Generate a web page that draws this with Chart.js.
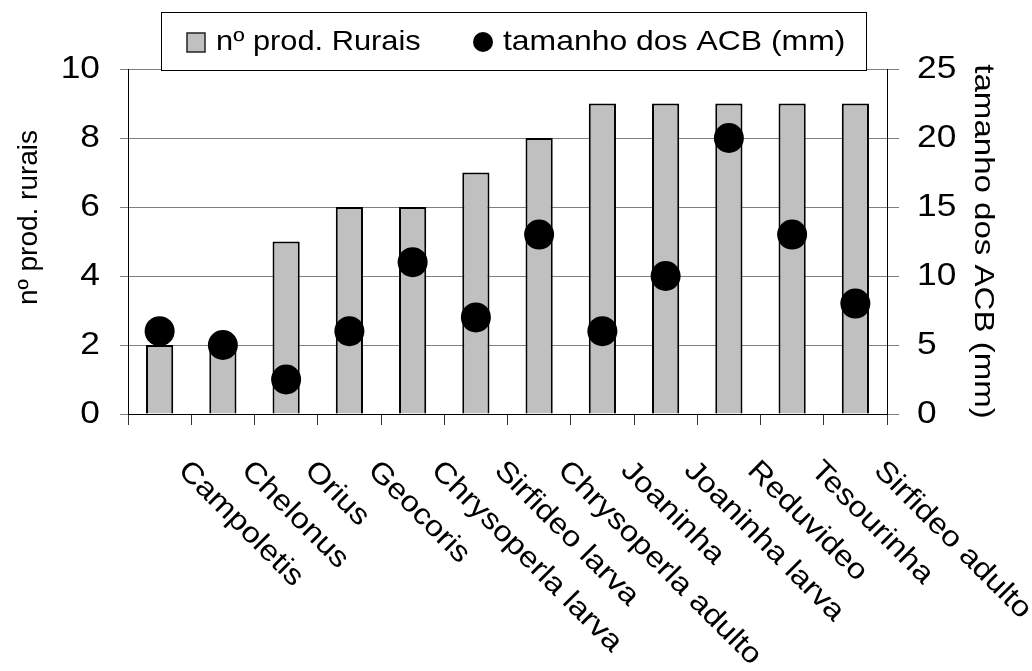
<!DOCTYPE html>
<html lang="pt">
<head>
<meta charset="utf-8">
<title>nº prod. rurais x tamanho dos ACB</title>
<script src="https://cdn.jsdelivr.net/npm/chart.js@4.4.1/dist/chart.umd.min.js"></script>
<style>
  html, body { margin: 0; padding: 0; background: #fff; }
  #chart { display: block; }
</style>
</head>
<body>
<canvas id="chart" width="1032" height="671"></canvas>
<script>
const categories = [
  "Campoletis", "Chelonus", "Orius", "Geocoris", "Chrysoperla larva",
  "Sirfideo larva", "Chrysoperla adulto", "Joaninha", "Joaninha larva",
  "Reduvideo", "Tesourinha", "Sirfideo adulto"
];
const prodRurais = [2, 2, 5, 6, 6, 7, 8, 9, 9, 9, 9, 9];
const tamanhoACB = [6, 5, 2.5, 6, 11, 7, 13, 6, 10, 20, 13, 8];
const leftTicks = [0, 2, 4, 6, 8, 10];
const rightTicks = [0, 5, 10, 15, 20, 25];

(function () {
  const FONT = '"Liberation Sans", Arial, sans-serif';
  const BAR_COLOR = "#c0c0c0";

  // texto um pouco mais largo que o Arial normal, como no original
  function drawText(ctx, text, x, y, opts) {
    ctx.save();
    ctx.translate(x, y);
    ctx.rotate(opts.angle || 0);
    ctx.scale(opts.stretch || 1, 1);
    ctx.font = `${opts.size}px ${FONT}`;
    ctx.fillStyle = "#000";
    ctx.textAlign = opts.align || "left";
    ctx.textBaseline = opts.baseline || "middle";
    ctx.fillText(text, 0, 0);
    ctx.restore();
  }

  function drawLegend(chart) {
    const ctx = chart.ctx;
    const bars = chart.data.datasets[0];
    const dots = chart.data.datasets[1];

    ctx.save();
    ctx.fillStyle = "#fff";
    ctx.fillRect(161, 12, 705, 58);
    ctx.strokeStyle = "#000";
    ctx.lineWidth = 1;
    ctx.strokeRect(161.5, 12.5, 705, 58);

    ctx.fillStyle = bars.backgroundColor;
    ctx.fillRect(187, 33, 18, 19);
    ctx.lineWidth = 1.5;
    ctx.strokeStyle = "#222";
    ctx.strokeRect(187, 33, 18, 19);

    ctx.fillStyle = dots.pointBackgroundColor;
    ctx.beginPath();
    ctx.arc(483, 42, 10, 0, Math.PI * 2);
    ctx.fill();
    ctx.restore();

    drawText(ctx, bars.label, 216, 42, { size: 28, stretch: 1.1 });
    drawText(ctx, dots.label, 503, 42, { size: 28, stretch: 1.14 });
  }

  const textPlugin = {
    id: "textPlugin",
    afterDraw(chart) {
      const ctx = chart.ctx;
      const area = chart.chartArea;
      const x = chart.scales.x;
      const y = chart.scales.y;
      const y1 = chart.scales.y1;

      leftTicks.forEach((v) => {
        drawText(ctx, String(v), area.left - 28, y.getPixelForValue(v),
          { size: 31, stretch: 1.14, align: "right" });
      });
      rightTicks.forEach((v) => {
        drawText(ctx, String(v), area.right + 30, y1.getPixelForValue(v),
          { size: 31, stretch: 1.14, align: "left" });
      });

      categories.forEach((name, i) => {
        drawText(ctx, name, x.getPixelForTick(i) + 23, x.top + 52,
          { size: 29, stretch: 1.13, angle: Math.PI / 4 });
      });

      const midY = (area.top + area.bottom) / 2;
      drawText(ctx, "nº prod. rurais", 29, midY - 24,
        { size: 28, stretch: 1.0, angle: -Math.PI / 2, align: "center" });
      drawText(ctx, "tamanho dos ACB (mm)", 983, midY,
        { size: 28, stretch: 1.18, angle: Math.PI / 2, align: "center" });

      drawLegend(chart);
    }
  };

  new Chart(document.getElementById("chart"), {
    type: "bar",
    data: {
      labels: categories,
      datasets: [
        {
          label: "nº prod. Rurais",
          data: prodRurais,
          backgroundColor: BAR_COLOR,
          borderColor: "#000",
          borderWidth: 2,
          barPercentage: 0.43,
          categoryPercentage: 1.0,
          yAxisID: "y",
          order: 2
        },
        {
          type: "line",
          label: "tamanho dos ACB (mm)",
          data: tamanhoACB,
          showLine: false,
          pointRadius: 15,
          pointHoverRadius: 15,
          pointBorderWidth: 0,
          pointBackgroundColor: "#000",
          pointBorderColor: "#000",
          yAxisID: "y1",
          order: 1
        }
      ]
    },
    options: {
      responsive: false,
      devicePixelRatio: 1,
      animation: false,
      layout: { padding: { top: 69, left: 0, right: 0, bottom: 0 } },
      plugins: {
        legend: { display: false },
        tooltip: { enabled: false },
        title: { display: false }
      },
      scales: {
        x: {
          grid: {
            offset: true,
            drawOnChartArea: false,
            tickLength: 11,
            color: "#333"
          },
          border: { color: "#000", width: 1 },
          ticks: { display: false },
          afterFit: (scale) => { scale.height = 257; }
        },
        y: {
          position: "left",
          min: 0,
          max: 10,
          ticks: { display: false, stepSize: 2 },
          grid: { color: "#808080", lineWidth: 1, tickLength: 8 },
          border: { color: "#000", width: 1 },
          afterFit: (scale) => { scale.width = 128; }
        },
        y1: {
          position: "right",
          min: 0,
          max: 25,
          ticks: { display: false, stepSize: 5 },
          grid: { drawOnChartArea: false, color: "#808080", tickLength: 12 },
          border: { color: "#000", width: 1 },
          afterFit: (scale) => { scale.width = 145; }
        }
      }
    },
    plugins: [textPlugin]
  });
})();
</script>
</body>
</html>
